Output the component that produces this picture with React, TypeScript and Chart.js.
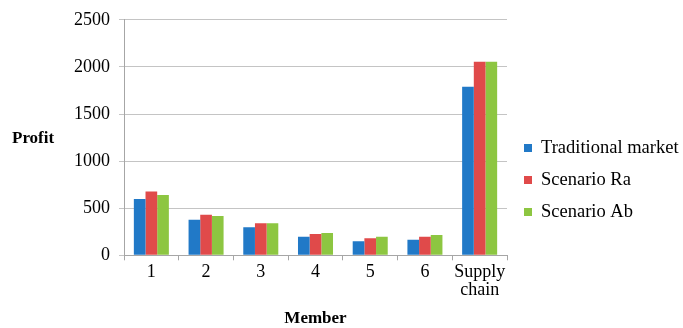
import React, { useEffect, useRef } from "react";
import { Chart, registerables } from "chart.js";

Chart.register(...registerables);

const categories: (string | string[])[] = ["1", "2", "3", "4", "5", "6", ["Supply", "chain"]];
const traditionalMarket = [597, 378, 297, 198, 148, 166, 1790];
const scenarioRa = [678, 431, 339, 226, 180, 198, 2055];
const scenarioAb = [639, 417, 339, 237, 198, 215, 2055];
const yTicks = [0, 500, 1000, 1500, 2000, 2500];

const FONT = "'Liberation Serif', 'Times New Roman', serif";

const yTitlePlugin = {
  id: "yTitle",
  afterDraw(chart: any) {
    const { ctx } = chart;
    ctx.save();
    ctx.font = `bold 17px ${FONT}`;
    ctx.fillStyle = "#000";
    ctx.textAlign = "left";
    ctx.textBaseline = "middle";
    ctx.fillText("Profit", 12, 139);
    ctx.restore();
  },
};

const legendPlugin = {
  id: "customLegend",
  afterDraw(chart: any) {
    const { ctx, chartArea } = chart;
    ctx.save();
    ctx.font = `18.5px ${FONT}`;
    ctx.textAlign = "left";
    ctx.textBaseline = "middle";
    const x0 = chartArea.right + 17;
    const rowH = 32;
    const n = chart.data.datasets.length;
    const yc = 180;
    chart.data.datasets.forEach((ds: any, i: number) => {
      const y = yc + (i - (n - 1) / 2) * rowH;
      ctx.fillStyle = ds.backgroundColor;
      ctx.fillRect(x0, y - 4, 8, 8);
      ctx.fillStyle = "#000";
      ctx.fillText(ds.label, x0 + 17, y);
    });
    ctx.restore();
  },
};

export default function App() {
  const ref = useRef<HTMLCanvasElement>(null);
  useEffect(() => {
    if (!ref.current) return;
    const chart = new Chart(ref.current, {
      type: "bar",
      data: {
        labels: categories,
        datasets: [
          { label: "Traditional market", data: traditionalMarket, backgroundColor: "#2179c7" },
          { label: "Scenario Ra", data: scenarioRa, backgroundColor: "#e04a4a" },
          { label: "Scenario Ab", data: scenarioAb, backgroundColor: "#8dc641" },
        ],
      },
      options: {
        animation: false,
        responsive: false,
        layout: { padding: { left: 65, top: 10, right: 176, bottom: 0 } },
        datasets: { bar: { categoryPercentage: 0.64, barPercentage: 1 } },
        plugins: {
          tooltip: { enabled: false },
          legend: { display: false },
        },
        scales: {
          x: {
            grid: { drawOnChartArea: false, offset: true, tickLength: 5, color: "#a6a6a6" },
            border: { color: "#a6a6a6" },
            ticks: { font: { family: FONT, size: 18, lineHeight: 1.0 }, color: "#000", padding: 3, maxRotation: 0 },
            title: { display: true, text: "Member", font: { family: FONT, size: 17, weight: "bold", lineHeight: 1.1 }, color: "#000", padding: { top: 7, bottom: 0 } },
          },
          y: {
            min: 0,
            max: 2500,
            afterBuildTicks: (axis: any) => {
              axis.ticks = yTicks.map((v) => ({ value: v }));
            },
            grid: { color: "#c4c4c4", tickLength: 5 },
            border: { color: "#a6a6a6" },
            ticks: { font: { family: FONT, size: 18 }, color: "#000", padding: 9, callback: (v: any) => String(v) },
          },
        },
      },
      plugins: [yTitlePlugin, legendPlugin],
    });
    return () => chart.destroy();
  }, []);
  return (
    <div style={{ position: "fixed", left: 0, top: 0, width: 683, height: 328, background: "#fff" }}>
      <canvas ref={ref} width={683} height={328} />
    </div>
  );
}
